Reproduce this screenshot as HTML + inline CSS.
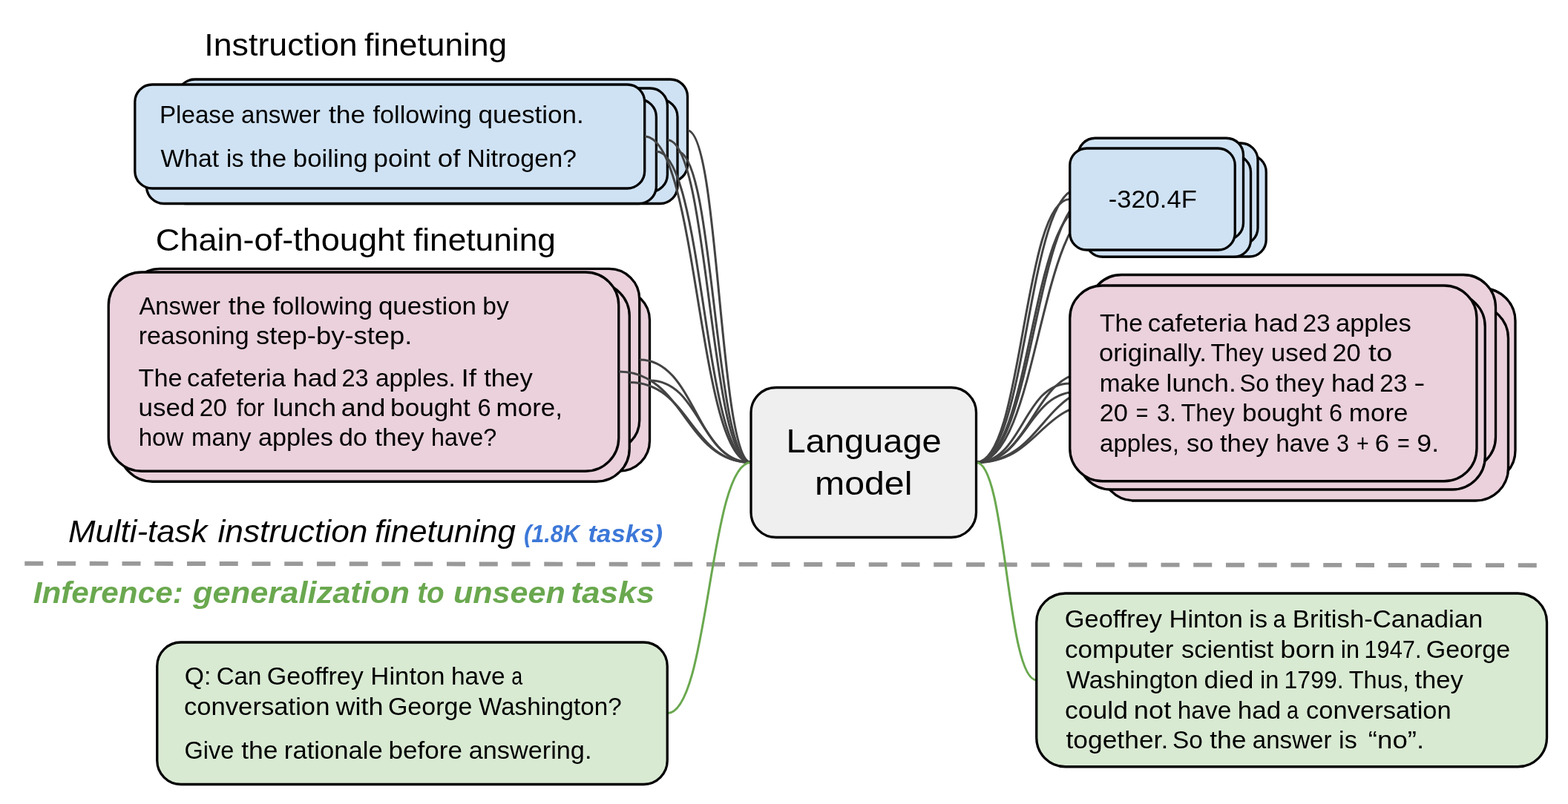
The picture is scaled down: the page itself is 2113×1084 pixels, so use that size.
<!DOCTYPE html>
<html lang="en">
<head>
<meta charset="utf-8">
<title>Instruction finetuning diagram</title>
<style>
html,body{margin:0;padding:0;background:#fff;}
body{width:2113px;height:1084px;overflow:hidden;}
svg{display:block;will-change:transform;}
svg text{font-family:"Liberation Sans",sans-serif;white-space:pre;}
</style>
</head>
<body>
<svg width="2113" height="1084" viewBox="0 0 2113 1084">
<rect x="0" y="0" width="2113" height="1084" fill="#ffffff"/>
<g id="shapes">
<path d="M1315.50,623.50 C1399.62,623.50 1399.62,277.50 1483.75,277.50" fill="none" stroke="#434343" stroke-width="3.0" stroke-linecap="butt"/>
<rect x="1483.75" y="209.00" width="222.50" height="137.00" rx="22.83" ry="22.83" fill="#cfe2f3" stroke="#000" stroke-width="3.3"/>
<path d="M1315.50,623.50 C1394.00,623.50 1394.00,261.50 1472.50,261.50" fill="none" stroke="#434343" stroke-width="3.0" stroke-linecap="butt"/>
<rect x="1472.50" y="193.00" width="222.50" height="137.00" rx="22.83" ry="22.83" fill="#cfe2f3" stroke="#000" stroke-width="3.3"/>
<path d="M1315.50,623.50 C1389.25,623.50 1389.25,277.75 1463.00,277.75" fill="none" stroke="#434343" stroke-width="3.0" stroke-linecap="butt"/>
<rect x="1463.00" y="209.25" width="222.50" height="137.00" rx="22.83" ry="22.83" fill="#cfe2f3" stroke="#000" stroke-width="3.3"/>
<path d="M1315.50,623.50 C1384.25,623.50 1384.25,254.75 1453.00,254.75" fill="none" stroke="#434343" stroke-width="3.0" stroke-linecap="butt"/>
<rect x="1453.00" y="186.25" width="222.50" height="137.00" rx="22.83" ry="22.83" fill="#cfe2f3" stroke="#000" stroke-width="3.3"/>
<path d="M1315.50,623.50 C1378.62,623.50 1378.62,268.50 1441.75,268.50" fill="none" stroke="#434343" stroke-width="3.0" stroke-linecap="butt"/>
<rect x="1441.75" y="200.00" width="222.50" height="137.00" rx="22.83" ry="22.83" fill="#cfe2f3" stroke="#000" stroke-width="3.3"/>
<path d="M1315.50,623.50 C1404.75,623.50 1404.75,520.00 1494.00,520.00" fill="none" stroke="#434343" stroke-width="3.0" stroke-linecap="butt"/>
<rect x="1494.00" y="389.00" width="548.00" height="262.00" rx="43.67" ry="43.67" fill="#ead1dc" stroke="#000" stroke-width="3.3"/>
<path d="M1315.50,623.50 C1400.00,623.50 1400.00,543.50 1484.50,543.50" fill="none" stroke="#434343" stroke-width="3.0" stroke-linecap="butt"/>
<rect x="1484.50" y="412.00" width="548.00" height="263.00" rx="43.83" ry="43.83" fill="#ead1dc" stroke="#000" stroke-width="3.3"/>
<path d="M1315.50,623.50 C1391.50,623.50 1391.50,501.75 1467.50,501.75" fill="none" stroke="#434343" stroke-width="3.0" stroke-linecap="butt"/>
<rect x="1467.50" y="370.50" width="548.00" height="262.50" rx="43.75" ry="43.75" fill="#ead1dc" stroke="#000" stroke-width="3.3"/>
<path d="M1315.50,623.50 C1384.25,623.50 1384.25,528.00 1453.00,528.00" fill="none" stroke="#434343" stroke-width="3.0" stroke-linecap="butt"/>
<rect x="1453.00" y="396.00" width="548.25" height="264.00" rx="44.00" ry="44.00" fill="#ead1dc" stroke="#000" stroke-width="3.3"/>
<path d="M1315.50,623.50 C1378.62,623.50 1378.62,516.88 1441.75,516.88" fill="none" stroke="#434343" stroke-width="3.0" stroke-linecap="butt"/>
<rect x="1441.75" y="385.00" width="548.25" height="263.75" rx="43.96" ry="43.96" fill="#ead1dc" stroke="#000" stroke-width="3.3"/>
<rect x="239.50" y="107.00" width="687.00" height="138.00" rx="23.00" ry="23.00" fill="#cfe2f3" stroke="#000" stroke-width="3.3"/>
<rect x="226.00" y="134.00" width="687.00" height="140.50" rx="23.42" ry="23.42" fill="#cfe2f3" stroke="#000" stroke-width="3.3"/>
<rect x="212.40" y="119.00" width="687.00" height="139.70" rx="23.28" ry="23.28" fill="#cfe2f3" stroke="#000" stroke-width="3.3"/>
<rect x="197.40" y="134.00" width="687.00" height="140.50" rx="23.42" ry="23.42" fill="#cfe2f3" stroke="#000" stroke-width="3.3"/>
<rect x="181.80" y="114.00" width="686.90" height="140.00" rx="23.33" ry="23.33" fill="#cfe2f3" stroke="#000" stroke-width="3.3"/>
<path d="M926.50,176.00 C969.25,176.00 969.25,623.50 1012.00,623.50" fill="none" stroke="#434343" stroke-width="3.0" stroke-linecap="butt"/>
<path d="M913.00,204.25 C962.50,204.25 962.50,623.50 1012.00,623.50" fill="none" stroke="#434343" stroke-width="3.0" stroke-linecap="butt"/>
<path d="M899.40,188.85 C955.70,188.85 955.70,623.50 1012.00,623.50" fill="none" stroke="#434343" stroke-width="3.0" stroke-linecap="butt"/>
<path d="M884.40,204.25 C948.20,204.25 948.20,623.50 1012.00,623.50" fill="none" stroke="#434343" stroke-width="3.0" stroke-linecap="butt"/>
<path d="M868.70,184.00 C940.35,184.00 940.35,623.50 1012.00,623.50" fill="none" stroke="#434343" stroke-width="3.0" stroke-linecap="butt"/>
<rect x="188.00" y="391.00" width="687.50" height="244.00" rx="40.67" ry="40.67" fill="#ead1dc" stroke="#000" stroke-width="3.3"/>
<rect x="174.25" y="362.40" width="687.50" height="245.00" rx="40.83" ry="40.83" fill="#ead1dc" stroke="#000" stroke-width="3.3"/>
<rect x="160.75" y="381.50" width="687.50" height="267.75" rx="44.62" ry="44.62" fill="#ead1dc" stroke="#000" stroke-width="3.3"/>
<rect x="146.25" y="367.00" width="687.50" height="268.25" rx="44.71" ry="44.71" fill="#ead1dc" stroke="#000" stroke-width="3.3"/>
<path d="M875.50,513.00 C943.75,513.00 943.75,623.50 1012.00,623.50" fill="none" stroke="#434343" stroke-width="3.0" stroke-linecap="butt"/>
<path d="M861.75,484.90 C936.88,484.90 936.88,623.50 1012.00,623.50" fill="none" stroke="#434343" stroke-width="3.0" stroke-linecap="butt"/>
<path d="M848.25,515.38 C930.12,515.38 930.12,623.50 1012.00,623.50" fill="none" stroke="#434343" stroke-width="3.0" stroke-linecap="butt"/>
<path d="M833.75,501.12 C922.88,501.12 922.88,623.50 1012.00,623.50" fill="none" stroke="#434343" stroke-width="3.0" stroke-linecap="butt"/>
<line x1="33.25" y1="759.7" x2="2071.25" y2="762.2" stroke="#999999" stroke-width="5.9" stroke-dasharray="25 18.75"/>
<path d="M899.25,961.75 C955.62,961.75 955.62,623.50 1012.00,623.50" fill="none" stroke="#6aa84f" stroke-width="3.0" stroke-linecap="butt"/>
<path d="M1315.50,623.50 C1356.12,623.50 1356.12,916.88 1396.75,916.88" fill="none" stroke="#6aa84f" stroke-width="3.0" stroke-linecap="butt"/>
<rect x="211.75" y="866.00" width="687.50" height="191.50" rx="31.92" ry="31.92" fill="#d9ead3" stroke="#000" stroke-width="3.3"/>
<rect x="1396.75" y="800.00" width="687.75" height="233.75" rx="38.96" ry="38.96" fill="#d9ead3" stroke="#000" stroke-width="3.3"/>
<rect x="1012.00" y="522.50" width="303.50" height="202.00" rx="33.67" ry="33.67" fill="#efefef" stroke="#000" stroke-width="3.3"/>
</g>
<g id="labels">
<text id="t1" y="75.00" font-size="42.5" fill="#000"><tspan id="t1_0" x="275.30" textLength="206.40" lengthAdjust="spacingAndGlyphs">Instruction</tspan> <tspan id="t1_1" x="490.99" textLength="192.27" lengthAdjust="spacingAndGlyphs">finetuning</tspan></text>
<text id="t2" y="338.00" font-size="42.5" fill="#000"><tspan id="t2_0" x="209.85" textLength="335.75" lengthAdjust="spacingAndGlyphs">Chain-of-thought</tspan> <tspan id="t2_1" x="556.99" textLength="191.86" lengthAdjust="spacingAndGlyphs">finetuning</tspan></text>
<text id="t3" y="731.25" font-size="42.5" fill="#000" font-style="italic"><tspan id="t3_0" x="91.94" textLength="187.47" lengthAdjust="spacingAndGlyphs">Multi-task</tspan> <tspan id="t3_1" x="293.44" textLength="202.07" lengthAdjust="spacingAndGlyphs">instruction</tspan> <tspan id="t3_2" x="504.94" textLength="190.00" lengthAdjust="spacingAndGlyphs">finetuning</tspan></text>
<text id="t4" y="731.25" font-size="32.5" fill="#3c78d8" font-weight="bold" font-style="italic"><tspan id="t4_0" x="706.06" textLength="74.91" lengthAdjust="spacingAndGlyphs">(1.8K</tspan> <tspan id="t4_1" x="792.43" textLength="100.70" lengthAdjust="spacingAndGlyphs">tasks)</tspan></text>
<text id="t5" y="813.00" font-size="41.5" fill="#6aa84f" font-weight="bold" font-style="italic"><tspan id="t5_0" x="44.73" textLength="202.01" lengthAdjust="spacingAndGlyphs">Inference:</tspan> <tspan id="t5_1" x="260.01" textLength="291.93" lengthAdjust="spacingAndGlyphs">generalization</tspan> <tspan id="t5_2" x="562.13" textLength="36.57" lengthAdjust="spacingAndGlyphs">to</tspan> <tspan id="t5_3" x="610.92" textLength="151.03" lengthAdjust="spacingAndGlyphs">unseen</tspan> <tspan id="t5_4" x="769.34" textLength="112.82" lengthAdjust="spacingAndGlyphs">tasks</tspan></text>
<text id="b1" y="166.25" font-size="32.5" fill="#000"><tspan id="b1_0" x="214.94" textLength="101.47" lengthAdjust="spacingAndGlyphs">Please</tspan> <tspan id="b1_1" x="324.97" textLength="106.82" lengthAdjust="spacingAndGlyphs">answer</tspan> <tspan id="b1_2" x="442.96" textLength="49.40" lengthAdjust="spacingAndGlyphs">the</tspan> <tspan id="b1_3" x="502.47" textLength="133.42" lengthAdjust="spacingAndGlyphs">following</tspan> <tspan id="b1_4" x="644.43" textLength="142.42" lengthAdjust="spacingAndGlyphs">question.</tspan></text>
<text id="b2" y="225.00" font-size="32.5" fill="#000"><tspan id="b2_0" x="216.47" textLength="78.70" lengthAdjust="spacingAndGlyphs">What</tspan> <tspan id="b2_1" x="305.00" textLength="23.48" lengthAdjust="spacingAndGlyphs">is</tspan> <tspan id="b2_2" x="336.98" textLength="49.32" lengthAdjust="spacingAndGlyphs">the</tspan> <tspan id="b2_3" x="394.86" textLength="100.65" lengthAdjust="spacingAndGlyphs">boiling</tspan> <tspan id="b2_4" x="503.32" textLength="76.72" lengthAdjust="spacingAndGlyphs">point</tspan> <tspan id="b2_5" x="589.79" textLength="30.68" lengthAdjust="spacingAndGlyphs">of</tspan> <tspan id="b2_6" x="629.36" textLength="147.71" lengthAdjust="spacingAndGlyphs">Nitrogen?</tspan></text>
<text id="p1" y="424.00" font-size="32.5" fill="#000"><tspan id="p1_0" x="187.49" textLength="109.40" lengthAdjust="spacingAndGlyphs">Answer</tspan> <tspan id="p1_1" x="307.71" textLength="50.45" lengthAdjust="spacingAndGlyphs">the</tspan> <tspan id="p1_2" x="367.47" textLength="134.63" lengthAdjust="spacingAndGlyphs">following</tspan> <tspan id="p1_3" x="509.92" textLength="132.10" lengthAdjust="spacingAndGlyphs">question</tspan> <tspan id="p1_4" x="650.38" textLength="35.51" lengthAdjust="spacingAndGlyphs">by</tspan></text>
<text id="p2" y="463.75" font-size="32.5" fill="#000"><tspan id="p2_0" x="186.65" textLength="148.96" lengthAdjust="spacingAndGlyphs">reasoning</tspan> <tspan id="p2_1" x="345.04" textLength="210.45" lengthAdjust="spacingAndGlyphs">step-by-step.</tspan></text>
<text id="p3" y="521.00" font-size="32.5" fill="#000"><tspan id="p3_0" x="186.46" textLength="59.15" lengthAdjust="spacingAndGlyphs">The</tspan> <tspan id="p3_1" x="252.13" textLength="132.77" lengthAdjust="spacingAndGlyphs">cafeteria</tspan> <tspan id="p3_2" x="394.80" textLength="59.67" lengthAdjust="spacingAndGlyphs">had</tspan> <tspan id="p3_3" x="460.48" textLength="36.17" lengthAdjust="spacingAndGlyphs">23</tspan> <tspan id="p3_4" x="505.97" textLength="107.93" lengthAdjust="spacingAndGlyphs">apples.</tspan> <tspan id="p3_5" x="621.59" textLength="20.50" lengthAdjust="spacingAndGlyphs">If</tspan> <tspan id="p3_6" x="652.20" textLength="65.54" lengthAdjust="spacingAndGlyphs">they</tspan></text>
<text id="p4" y="561.00" font-size="32.5" fill="#000"><tspan id="p4_0" x="186.58" textLength="75.83" lengthAdjust="spacingAndGlyphs">used</tspan> <tspan id="p4_1" x="268.70" textLength="37.23" lengthAdjust="spacingAndGlyphs">20</tspan> <tspan id="p4_2" x="318.75" textLength="37.95" lengthAdjust="spacingAndGlyphs">for</tspan> <tspan id="p4_3" x="367.81" textLength="85.16" lengthAdjust="spacingAndGlyphs">lunch</tspan> <tspan id="p4_4" x="459.88" textLength="59.58" lengthAdjust="spacingAndGlyphs">and</tspan> <tspan id="p4_5" x="526.11" textLength="107.61" lengthAdjust="spacingAndGlyphs">bought</tspan> <tspan id="p4_6" x="643.46" textLength="18.12" lengthAdjust="spacingAndGlyphs">6</tspan> <tspan id="p4_7" x="668.57" textLength="89.47" lengthAdjust="spacingAndGlyphs">more,</tspan></text>
<text id="p5" y="601.25" font-size="32.5" fill="#000"><tspan id="p5_0" x="186.70" textLength="60.70" lengthAdjust="spacingAndGlyphs">how</tspan> <tspan id="p5_1" x="257.97" textLength="80.52" lengthAdjust="spacingAndGlyphs">many</tspan> <tspan id="p5_2" x="347.94" textLength="100.89" lengthAdjust="spacingAndGlyphs">apples</tspan> <tspan id="p5_3" x="456.67" textLength="38.35" lengthAdjust="spacingAndGlyphs">do</tspan> <tspan id="p5_4" x="505.18" textLength="66.57" lengthAdjust="spacingAndGlyphs">they</tspan> <tspan id="p5_5" x="581.01" textLength="88.15" lengthAdjust="spacingAndGlyphs">have?</tspan></text>
<text id="a1" y="280.00" font-size="32.5" fill="#000"><tspan id="a1_0" x="1493.66" textLength="119.16" lengthAdjust="spacingAndGlyphs">-320.4F</tspan></text>
<text id="r1" y="447.00" font-size="32.5" fill="#000"><tspan id="r1_0" x="1481.96" textLength="58.10" lengthAdjust="spacingAndGlyphs">The</tspan> <tspan id="r1_1" x="1546.66" textLength="133.78" lengthAdjust="spacingAndGlyphs">cafeteria</tspan> <tspan id="r1_2" x="1689.80" textLength="59.67" lengthAdjust="spacingAndGlyphs">had</tspan> <tspan id="r1_3" x="1755.43" textLength="37.30" lengthAdjust="spacingAndGlyphs">23</tspan> <tspan id="r1_4" x="1799.92" textLength="101.92" lengthAdjust="spacingAndGlyphs">apples</tspan></text>
<text id="r2" y="487.00" font-size="32.5" fill="#000"><tspan id="r2_0" x="1480.91" textLength="145.19" lengthAdjust="spacingAndGlyphs">originally.</tspan> <tspan id="r2_1" x="1631.50" textLength="71.26" lengthAdjust="spacingAndGlyphs">They</tspan> <tspan id="r2_2" x="1712.85" textLength="75.83" lengthAdjust="spacingAndGlyphs">used</tspan> <tspan id="r2_3" x="1795.41" textLength="38.35" lengthAdjust="spacingAndGlyphs">20</tspan> <tspan id="r2_4" x="1843.97" textLength="32.36" lengthAdjust="spacingAndGlyphs">to</tspan></text>
<text id="r3" y="527.50" font-size="32.5" fill="#000"><tspan id="r3_0" x="1481.68" textLength="81.58" lengthAdjust="spacingAndGlyphs">make</tspan> <tspan id="r3_1" x="1571.55" textLength="94.14" lengthAdjust="spacingAndGlyphs">lunch.</tspan> <tspan id="r3_2" x="1670.49" textLength="39.78" lengthAdjust="spacingAndGlyphs">So</tspan> <tspan id="r3_3" x="1718.99" textLength="65.47" lengthAdjust="spacingAndGlyphs">they</tspan> <tspan id="r3_4" x="1794.01" textLength="58.69" lengthAdjust="spacingAndGlyphs">had</tspan> <tspan id="r3_5" x="1859.19" textLength="37.26" lengthAdjust="spacingAndGlyphs">23</tspan> <tspan id="r3_6" x="1905.28" textLength="15.16" lengthAdjust="spacingAndGlyphs">-</tspan></text>
<text id="r4" y="568.00" font-size="32.5" fill="#000"><tspan id="r4_0" x="1481.67" textLength="38.31" lengthAdjust="spacingAndGlyphs">20</tspan> <tspan id="r4_1" x="1530.67" textLength="16.65" lengthAdjust="spacingAndGlyphs">=</tspan> <tspan id="r4_2" x="1559.04" textLength="25.96" lengthAdjust="spacingAndGlyphs">3.</tspan> <tspan id="r4_3" x="1591.50" textLength="72.27" lengthAdjust="spacingAndGlyphs">They</tspan> <tspan id="r4_4" x="1674.11" textLength="107.60" lengthAdjust="spacingAndGlyphs">bought</tspan> <tspan id="r4_5" x="1791.00" textLength="18.08" lengthAdjust="spacingAndGlyphs">6</tspan> <tspan id="r4_6" x="1817.85" textLength="79.69" lengthAdjust="spacingAndGlyphs">more</tspan></text>
<text id="r5" y="608.75" font-size="32.5" fill="#000"><tspan id="r5_0" x="1481.98" textLength="106.89" lengthAdjust="spacingAndGlyphs">apples,</tspan> <tspan id="r5_1" x="1598.94" textLength="36.49" lengthAdjust="spacingAndGlyphs">so</tspan> <tspan id="r5_2" x="1643.99" textLength="65.49" lengthAdjust="spacingAndGlyphs">they</tspan> <tspan id="r5_3" x="1719.16" textLength="72.64" lengthAdjust="spacingAndGlyphs">have</tspan> <tspan id="r5_4" x="1801.06" textLength="16.98" lengthAdjust="spacingAndGlyphs">3</tspan> <tspan id="r5_5" x="1827.88" textLength="16.65" lengthAdjust="spacingAndGlyphs">+</tspan> <tspan id="r5_6" x="1852.86" textLength="19.32" lengthAdjust="spacingAndGlyphs">6</tspan> <tspan id="r5_7" x="1882.88" textLength="16.65" lengthAdjust="spacingAndGlyphs">=</tspan> <tspan id="r5_8" x="1909.35" textLength="29.72" lengthAdjust="spacingAndGlyphs">9.</tspan></text>
<text id="m1" y="609.75" font-size="44.0" fill="#000"><tspan id="m1_0" x="1059.53" textLength="209.16" lengthAdjust="spacingAndGlyphs">Language</tspan></text>
<text id="m2" y="667.00" font-size="44.0" fill="#000"><tspan id="m2_0" x="1097.98" textLength="131.41" lengthAdjust="spacingAndGlyphs">model</tspan></text>
<text id="g1" y="922.50" font-size="32.5" fill="#000"><tspan id="g1_0" x="248.85" textLength="35.62" lengthAdjust="spacingAndGlyphs">Q:</tspan> <tspan id="g1_1" x="291.72" textLength="60.70" lengthAdjust="spacingAndGlyphs">Can</tspan> <tspan id="g1_2" x="359.69" textLength="130.17" lengthAdjust="spacingAndGlyphs">Geoffrey</tspan> <tspan id="g1_3" x="499.33" textLength="100.29" lengthAdjust="spacingAndGlyphs">Hinton</tspan> <tspan id="g1_4" x="607.94" textLength="72.59" lengthAdjust="spacingAndGlyphs">have</tspan> <tspan id="g1_5" x="689.17" textLength="14.92" lengthAdjust="spacingAndGlyphs">a</tspan></text>
<text id="g2" y="963.75" font-size="32.5" fill="#000"><tspan id="g2_0" x="247.93" textLength="196.50" lengthAdjust="spacingAndGlyphs">conversation</tspan> <tspan id="g2_1" x="452.44" textLength="64.11" lengthAdjust="spacingAndGlyphs">with</tspan> <tspan id="g2_2" x="522.90" textLength="113.57" lengthAdjust="spacingAndGlyphs">George</tspan> <tspan id="g2_3" x="645.00" textLength="192.74" lengthAdjust="spacingAndGlyphs">Washington?</tspan></text>
<text id="g3" y="1022.50" font-size="32.5" fill="#000"><tspan id="g3_0" x="248.50" textLength="66.83" lengthAdjust="spacingAndGlyphs">Give</tspan> <tspan id="g3_1" x="325.17" textLength="49.42" lengthAdjust="spacingAndGlyphs">the</tspan> <tspan id="g3_2" x="382.87" textLength="132.92" lengthAdjust="spacingAndGlyphs">rationale</tspan> <tspan id="g3_3" x="523.57" textLength="99.49" lengthAdjust="spacingAndGlyphs">before</tspan> <tspan id="g3_4" x="631.68" textLength="165.80" lengthAdjust="spacingAndGlyphs">answering.</tspan></text>
<text id="h1" y="846.25" font-size="32.5" fill="#000"><tspan id="h1_0" x="1434.89" textLength="131.18" lengthAdjust="spacingAndGlyphs">Geoffrey</tspan> <tspan id="h1_1" x="1575.62" textLength="99.24" lengthAdjust="spacingAndGlyphs">Hinton</tspan> <tspan id="h1_2" x="1683.36" textLength="24.68" lengthAdjust="spacingAndGlyphs">is</tspan> <tspan id="h1_3" x="1715.50" textLength="17.17" lengthAdjust="spacingAndGlyphs">a</tspan> <tspan id="h1_4" x="1741.80" textLength="256.63" lengthAdjust="spacingAndGlyphs">British-Canadian</tspan></text>
<text id="h2" y="887.00" font-size="32.5" fill="#000"><tspan id="h2_0" x="1434.91" textLength="146.62" lengthAdjust="spacingAndGlyphs">computer</tspan> <tspan id="h2_1" x="1591.94" textLength="124.49" lengthAdjust="spacingAndGlyphs">scientist</tspan> <tspan id="h2_2" x="1725.16" textLength="73.76" lengthAdjust="spacingAndGlyphs">born</tspan> <tspan id="h2_3" x="1806.73" textLength="25.32" lengthAdjust="spacingAndGlyphs">in</tspan> <tspan id="h2_4" x="1838.39" textLength="77.08" lengthAdjust="spacingAndGlyphs">1947.</tspan> <tspan id="h2_5" x="1921.68" textLength="113.53" lengthAdjust="spacingAndGlyphs">George</tspan></text>
<text id="h3" y="928.00" font-size="32.5" fill="#000"><tspan id="h3_0" x="1437.00" textLength="177.52" lengthAdjust="spacingAndGlyphs">Washington</tspan> <tspan id="h3_1" x="1622.64" textLength="66.76" lengthAdjust="spacingAndGlyphs">died</tspan> <tspan id="h3_2" x="1698.00" textLength="25.32" lengthAdjust="spacingAndGlyphs">in</tspan> <tspan id="h3_3" x="1730.53" textLength="80.27" lengthAdjust="spacingAndGlyphs">1799.</tspan> <tspan id="h3_4" x="1817.75" textLength="81.30" lengthAdjust="spacingAndGlyphs">Thus,</tspan> <tspan id="h3_5" x="1906.46" textLength="65.49" lengthAdjust="spacingAndGlyphs">they</tspan></text>
<text id="h4" y="968.50" font-size="32.5" fill="#000"><tspan id="h4_0" x="1434.90" textLength="85.06" lengthAdjust="spacingAndGlyphs">could</tspan> <tspan id="h4_1" x="1527.77" textLength="50.45" lengthAdjust="spacingAndGlyphs">not</tspan> <tspan id="h4_2" x="1586.68" textLength="72.59" lengthAdjust="spacingAndGlyphs">have</tspan> <tspan id="h4_3" x="1667.84" textLength="58.58" lengthAdjust="spacingAndGlyphs">had</tspan> <tspan id="h4_4" x="1734.12" textLength="15.95" lengthAdjust="spacingAndGlyphs">a</tspan> <tspan id="h4_5" x="1760.14" textLength="195.55" lengthAdjust="spacingAndGlyphs">conversation</tspan></text>
<text id="h5" y="1009.25" font-size="32.5" fill="#000"><tspan id="h5_0" x="1436.45" textLength="137.82" lengthAdjust="spacingAndGlyphs">together.</tspan> <tspan id="h5_1" x="1579.94" textLength="40.88" lengthAdjust="spacingAndGlyphs">So</tspan> <tspan id="h5_2" x="1630.17" textLength="49.42" lengthAdjust="spacingAndGlyphs">the</tspan> <tspan id="h5_3" x="1687.72" textLength="106.83" lengthAdjust="spacingAndGlyphs">answer</tspan> <tspan id="h5_4" x="1804.12" textLength="24.68" lengthAdjust="spacingAndGlyphs">is</tspan> <tspan id="h5_5" x="1843.87" textLength="75.32" lengthAdjust="spacingAndGlyphs">“no”.</tspan></text>
</g>
</svg>
</body>
</html>
